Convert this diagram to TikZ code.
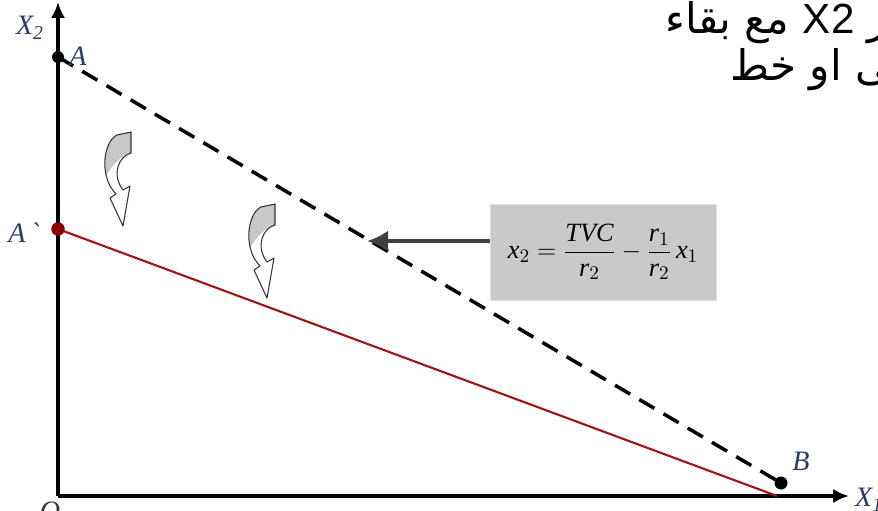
\documentclass[tikz,border=0pt]{standalone}
\usepackage{fontspec}
\setmainfont{Liberation Serif}
\newfontfamily\arabicfont[Script=Arabic]{DejaVu Sans}
\newfontfamily\latinsans{Liberation Sans}
\TeXXeTstate=1
\usetikzlibrary{arrows.meta}
\definecolor{lblBlue}{HTML}{2C3B66}
\definecolor{budgetRed}{HTML}{A01414}
\definecolor{dotRed}{HTML}{8B0000}
\definecolor{boxGray}{HTML}{C9C9C9}
\definecolor{capGray}{HTML}{C8C8C8}
\tikzset{
  axisline/.style={line width=1.9pt,-{Latex[length=9pt,width=8pt]}},
  oldline/.style={line width=2pt,dash pattern=on 10pt off 6pt},
  newline/.style={budgetRed,line width=1.2pt},
  blackdot/.style={circle,fill=black,inner sep=0pt,minimum size=0.24cm},
  reddot/.style={circle,fill=dotRed,inner sep=0pt,minimum size=0.27cm},
  ptlabel/.style={font=\fontsize{16}{18}\selectfont\itshape,text=lblBlue,inner sep=1pt},
  pointer/.style={black!75,line width=2.2pt,-{Latex[length=12pt,width=12pt]}},
  eqbox/.style={fill=boxGray,draw=black!12,minimum width=4.52cm,minimum height=1.92cm}
}
% curved block arrow, top right corner at (#1,#2)
\newcommand{\curlarrow}[2]{%
  \begin{scope}[shift={(#1,#2)}]
    \begin{scope}
      \clip (0,0) -- (0,21) .. controls (-12,24) and (-20,42) .. (-8,58)
        -- (-1,54) -- (-8,94) -- (-21,66) -- (-15,62)
        .. controls (-32,45) and (-28,10) .. (-14,3) -- cycle;
      \fill[capGray] (5,-5) -- (5,20) -- (0,21) .. controls (-12,24) and (-18,34) .. (-30,50) -- (-34,-5) -- cycle;
    \end{scope}
    \draw[black!80,line width=0.6pt,line join=round]
      (0,0) -- (0,21) .. controls (-12,24) and (-20,42) .. (-8,58)
      -- (-1,54) -- (-8,94) -- (-21,66) -- (-15,62)
      .. controls (-32,45) and (-28,10) .. (-14,3) -- cycle;
  \end{scope}}

\begin{document}
\begin{tikzpicture}[x=0.02cm,y=-0.02cm]
\useasboundingbox (0,0) rectangle (878,510);
\clip (0,0) rectangle (878,510);

% axes
\coordinate (O) at (58,496);
\coordinate (yEnd) at (58,2);
\coordinate (xEnd) at (849,496);
\draw[axisline] (O) -- (yEnd);
\draw[axisline] (O) -- (xEnd);

% budget lines before and after
\coordinate (A) at (58,57);
\coordinate (Ap) at (58,229);
\coordinate (B) at (781,483);
\coordinate (Bax) at (777,496);
\draw[oldline] (A) -- (B);
\draw[newline] (Ap) -- (Bax);

\node[blackdot] (Adot) at (A) {};
\node[reddot] (Apdot) at (Ap) {};
\node[blackdot,minimum size=0.26cm] (Bdot) at (B) {};

% labels
\node[ptlabel] (xTwoLbl) at (30,28) {X\textsubscript{2}};
\node[ptlabel,anchor=west] (xOneLbl) at (853,500) {X\textsubscript{1}};
\node[ptlabel] (ALbl) at (78,56) {A};
\node[ptlabel] (ApLbl) at (24,233) {A\,\textasciigrave};
\node[ptlabel] (BLbl) at (801,461) {B};
\node[ptlabel,anchor=north,text=black!80] (OLbl) at (50,500) {O};

% equation of the budget line
\node[eqbox] (eq) at (603,252) {\fontsize{15}{17}\selectfont
  $\displaystyle \textit{x}_{2}=\frac{\textit{TVC}}{\textit{r}_{2}}-\frac{\textit{r}_{1}}{\textit{r}_{2}}\,\textit{x}_{1}$};
\coordinate (tipP) at (367,241);
\draw[pointer] (eq.west |- tipP) -- (tipP);

% shift arrows
\curlarrow{131}{132}
\curlarrow{275}{204}

% arabic text, cut at the right edge
\node[anchor=base west,inner sep=0pt] (txtOne) at (665,34)
  {\fontsize{24}{28}\arabicfont\beginR سعر \beginL{\latinsans X2}\endL{} مع بقاء\endR};
\node[anchor=base west,inner sep=0pt] (txtTwo) at (730,81)
  {\fontsize{24}{28}\arabicfont\beginR منحنى او خط\endR};

\end{tikzpicture}
\end{document}
